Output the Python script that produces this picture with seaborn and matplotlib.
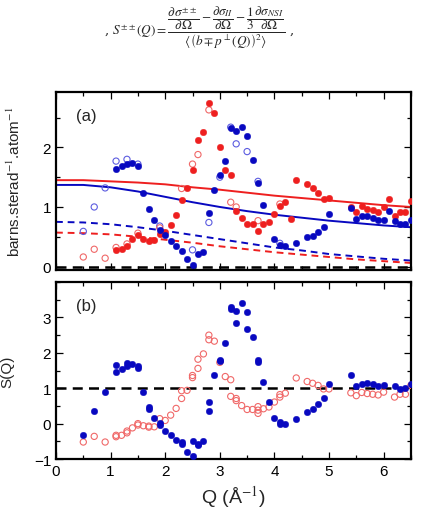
import numpy as np
import pandas as pd
import matplotlib
matplotlib.use("Agg")
import matplotlib.pyplot as plt
from matplotlib.ticker import MultipleLocator
import seaborn as sns

# ---------------- data: panel (a) ----------------
a_red_filled_q = [1.1, 1.2, 1.3, 1.4, 1.5, 1.6, 1.7, 1.8, 1.9, 2.0, 2.1, 2.2, 2.3, 2.4, 2.5, 2.6, 2.7, 2.8, 2.9, 3.0,
                  3.1, 3.2, 3.3, 3.4, 3.5, 3.6, 3.7, 3.8, 3.9, 4.0, 4.1, 4.2, 4.3, 4.4, 4.6, 4.7, 4.8, 4.9, 5.0,
                  5.4, 5.5, 5.6, 5.7, 5.8, 5.9, 6.0, 6.1, 6.2, 6.3, 6.4, 6.5]
a_red_filled_v = [0.28, 0.29, 0.35, 0.46, 0.53, 0.47, 0.43, 0.44, 0.55, 0.58, 0.70, 0.87, 1.11, 1.32, 1.62, 2.12, 2.26, 2.75, 2.58, 2.01,
                  1.62, 1.53, 0.94, 0.82, 0.71, 0.71, 0.60, 0.71, 0.74, 0.88, 1.02, 1.08, 0.80, 1.46, 1.38, 1.32, 1.23, 1.14, 1.15,
                  1.00, 0.92, 1.02, 0.97, 0.95, 0.91, 1.00, 1.14, 0.85, 0.91, 0.91, 1.10]
a_blue_filled_q = [1.1, 1.2, 1.3, 1.4, 1.5, 1.6, 1.7, 1.8, 1.9, 2.0, 2.1, 2.2, 2.3, 2.4, 2.5, 2.6, 2.7, 2.8, 2.9, 3.0,
                   3.1, 3.2, 3.3, 3.4, 3.5, 3.6, 3.7, 3.8, 4.0, 4.1, 4.2, 4.4, 4.6, 4.7, 4.8, 4.9, 5.0,
                   5.4, 5.5, 5.6, 5.7, 5.8, 5.9, 6.0, 6.1, 6.2, 6.3, 6.4, 6.5]
a_blue_filled_v = [1.63, 1.68, 1.72, 1.74, 1.68, 1.24, 0.96, 0.78, 0.62, 0.53, 0.43, 0.35, 0.26, 0.12, 0.03, 0.21, 0.25, 0.90, 1.28, 1.53,
                   1.78, 2.32, 2.27, 2.35, 2.20, 1.79, 1.40, 1.04, 0.46, 0.36, 0.34, 0.40, 0.49, 0.52, 0.58, 0.67, 0.88,
                   0.98, 0.80, 0.84, 0.85, 0.82, 0.78, 0.78, 0.94, 0.77, 0.71, 0.72, 0.78]
a_blue_open_q = [0.5, 0.7, 0.9, 1.1, 1.3, 1.5, 1.9, 2.5, 2.8, 3.0, 3.2, 3.3, 3.5, 3.7, 4.1]
a_blue_open_v = [0.59, 1.00, 1.32, 1.77, 1.80, 1.72, 0.68, 0.28, 0.74, 1.50, 2.34, 2.06, 1.93, 1.43, 0.39]
a_red_open_q = [0.5, 0.7, 0.9, 1.1, 1.3, 1.5, 1.9, 2.3, 2.5, 2.6, 2.8, 3.2, 3.3, 3.7, 4.1]
a_red_open_v = [0.16, 0.29, 0.14, 0.32, 0.38, 0.56, 0.65, 1.31, 1.72, 1.88, 2.63, 1.08, 1.00, 0.77, 1.05]

curve_q = [0.0, 0.5, 1.0, 1.5, 2.0, 2.5, 3.0, 3.5, 4.0, 4.5, 5.0, 5.5, 6.0, 6.5]
red_solid = [1.45, 1.45, 1.43, 1.41, 1.38, 1.33, 1.29, 1.24, 1.19, 1.15, 1.11, 1.07, 1.03, 1.00]
blue_solid = [1.37, 1.37, 1.33, 1.26, 1.17, 1.08, 1.00, 0.93, 0.87, 0.82, 0.77, 0.73, 0.69, 0.66]
blue_dashed = [0.75, 0.74, 0.71, 0.66, 0.60, 0.53, 0.46, 0.39, 0.32, 0.27, 0.21, 0.17, 0.13, 0.10]
red_dashed = [0.57, 0.56, 0.54, 0.50, 0.45, 0.40, 0.34, 0.29, 0.24, 0.20, 0.16, 0.12, 0.09, 0.06]

# ---------------- data: panel (b) ----------------
b_blue_q = [0.5, 0.7, 0.9, 1.1, 1.1, 1.2, 1.3, 1.3, 1.4, 1.5, 1.5, 1.6, 1.7, 1.7, 1.8, 1.9, 1.9, 2.0, 2.1, 2.2,
            2.3, 2.3, 2.4, 2.5, 2.5, 2.6, 2.6, 2.7, 2.8, 2.8, 2.9, 3.0, 3.0, 3.1, 3.2, 3.2, 3.3, 3.3, 3.4, 3.5,
            3.5, 3.6, 3.7, 3.7, 3.8, 3.9, 4.0, 4.1, 4.1, 4.2, 4.4, 4.6, 4.7, 4.8, 4.9, 5.0, 5.4, 5.5, 5.6, 5.7,
            5.8, 5.9, 6.0, 6.2, 6.3, 6.4, 6.5]
b_blue_v = [-0.33, 0.37, 0.89, 1.66, 1.45, 1.54, 1.72, 1.63, 1.69, 1.64, 1.58, 0.89, 0.46, 0.42, 0.17, 0.02, -0.04, -0.20, -0.33, -0.47,
            -0.52, -0.58, -0.80, -0.92, -0.50, -0.61, -0.57, -0.49, 0.62, 0.35, 1.36, 1.81, 1.76, 2.27, 3.30, 3.25, 3.19, 2.84, 3.42, 3.16,
            2.67, 2.46, 1.80, 1.75, 1.17, 0.61, 0.16, 0.04, -0.01, -0.01, 0.14, 0.34, 0.41, 0.56, 0.73, 1.12, 1.38, 1.06, 1.12, 1.15,
            1.12, 1.05, 1.08, 1.06, 0.98, 1.00, 1.12]
b_red_q = [0.5, 0.7, 0.9, 1.1, 1.1, 1.2, 1.3, 1.3, 1.4, 1.5, 1.5, 1.6, 1.7, 1.7, 1.8, 1.9, 2.0, 2.1, 2.2, 2.3,
           2.3, 2.4, 2.5, 2.5, 2.6, 2.6, 2.7, 2.8, 2.8, 2.9, 3.0, 3.1, 3.2, 3.2, 3.3, 3.3, 3.4, 3.5, 3.6, 3.7,
           3.7, 3.7, 3.8, 3.9, 4.0, 4.1, 4.1, 4.2, 4.4, 4.6, 4.7, 4.8, 4.9, 5.0, 5.4, 5.5, 5.6, 5.7, 5.8, 5.9,
           6.0, 6.2, 6.3, 6.4, 6.5]
b_red_v = [-0.52, -0.36, -0.52, -0.33, -0.37, -0.33, -0.26, -0.21, -0.12, 0.00, -0.04, -0.06, -0.10, -0.07, -0.09, 0.14, 0.09, 0.24, 0.43, 0.71,
           0.93, 0.94, 1.30, 1.36, 1.56, 1.82, 1.97, 2.37, 2.50, 2.33, 1.73, 1.33, 1.24, 0.77, 0.71, 0.65, 0.51, 0.40, 0.40, 0.48,
           0.38, 0.29, 0.42, 0.47, 0.61, 0.75, 0.82, 0.86, 1.29, 1.19, 1.14, 1.08, 0.98, 0.98, 0.87, 0.79, 0.88, 0.85, 0.83, 0.81,
           0.89, 0.75, 0.83, 0.83, 1.08]

x_ticks = [0, 1, 2, 3, 4, 5, 6]
a_yticks = [0, 1, 2]
b_yticks = [-1, 0, 1, 2, 3]

# ---------------- style ----------------
sns.set_style("ticks")
plt.rcParams['font.family'] = ['Liberation Sans', 'DejaVu Sans']
plt.rcParams['mathtext.fontset'] = 'stix'

BLUE = '#0808c0'
RED = '#ee1f1f'
BLUE_OPEN = '#5c5ce0'
RED_OPEN = '#f06868'
DOT = 22
OPEN = 20

fig = plt.figure(figsize=(4.23, 5.10), dpi=100)
axa = fig.add_axes([0.1324, 0.4696, 0.839, 0.348])
axb = fig.add_axes([0.1324, 0.098, 0.839, 0.347])

def style_axes(ax):
    for s in ax.spines.values():
        s.set_linewidth(1.6)
        s.set_color('black')
    ax.xaxis.set_minor_locator(MultipleLocator(0.5))
    ax.yaxis.set_minor_locator(MultipleLocator(0.5))
    ax.tick_params(which='both', direction='in', top=True, right=True, width=0.9, labelsize=11, colors='black')
    ax.tick_params(which='major', length=5)
    ax.tick_params(which='minor', length=3)
    ax.set_xlim(0, 6.5)
    ax.set_xticks(x_ticks)

# ---- panel (a)
ca = pd.DataFrame({'Q': curve_q, 'rs': red_solid, 'bs': blue_solid, 'bd': blue_dashed, 'rd': red_dashed})
sns.lineplot(data=ca, x='Q', y='rs', color=RED, lw=1.4, ax=axa)
sns.lineplot(data=ca, x='Q', y='bs', color=BLUE, lw=1.4, ax=axa)
sns.lineplot(data=ca, x='Q', y='bd', color=BLUE, lw=1.4, ax=axa, linestyle=(0, (3.5, 2.5)))
sns.lineplot(data=ca, x='Q', y='rd', color=RED, lw=1.4, ax=axa, linestyle=(0, (3.5, 2.5)))
axa.axhline(0, color='black', lw=1.8, dashes=(4, 2.5), zorder=1)

sns.scatterplot(x=a_blue_open_q, y=a_blue_open_v, marker='o', s=OPEN, facecolor='none',
                edgecolor=BLUE_OPEN, linewidth=0.8, ax=axa, zorder=3)
sns.scatterplot(x=a_red_open_q, y=a_red_open_v, marker='o', s=OPEN, facecolor='none',
                edgecolor=RED_OPEN, linewidth=0.8, ax=axa, zorder=3)
sns.scatterplot(x=a_red_filled_q, y=a_red_filled_v, marker='o', s=DOT, color=RED,
                edgecolor=RED, linewidth=0.3, ax=axa, zorder=4)
sns.scatterplot(x=a_blue_filled_q, y=a_blue_filled_v, marker='o', s=DOT, color=BLUE,
                edgecolor=BLUE, linewidth=0.3, ax=axa, zorder=4)

style_axes(axa)
axa.set_ylim(-0.05, 2.93)
axa.set_yticks(a_yticks)
axa.set_xticklabels([])
axa.set_xlabel('')
axa.set_ylabel('barns.sterad$^{-1}$.atom$^{-1}$', fontsize=11, labelpad=14)
axa.text(0.055, 0.84, '(a)', transform=axa.transAxes, fontsize=12)

# ---- panel (b)
axb.axhline(1, color='black', lw=1.8, dashes=(4, 2.5), zorder=1)
sns.scatterplot(x=b_red_q, y=b_red_v, marker='o', s=OPEN, facecolor='none',
                edgecolor=RED_OPEN, linewidth=0.8, ax=axb, zorder=3)
sns.scatterplot(x=b_blue_q, y=b_blue_v, marker='o', s=DOT, color=BLUE,
                edgecolor=BLUE, linewidth=0.3, ax=axb, zorder=4)
style_axes(axb)
axb.set_ylim(-1, 4)
axb.set_yticks(b_yticks)
axb.set_xlabel('Q (Å$^{-1}$)', fontsize=14, labelpad=4)
axb.set_ylabel('S(Q)', fontsize=11, labelpad=14)
axb.text(0.055, 0.84, '(b)', transform=axb.transAxes, fontsize=12)

# ---- formula at top
formula = (r", $S^{\pm\pm}(Q)=\dfrac{\dfrac{\partial\sigma^{\pm\pm}}{\partial\Omega}"
           r"-\dfrac{\partial\sigma_{II}}{\partial\Omega}-\dfrac{1}{3}\dfrac{\partial\sigma_{NSI}}{\partial\Omega}}"
           r"{\left\langle\left(b\mp p^{\perp}(Q)\right)^{2}\right\rangle}$ ,")
fig.text(0.47, 0.945, formula, ha='center', va='center', fontsize=9.5, family='DejaVu Serif')

fig.savefig('out.png', dpi=100)
